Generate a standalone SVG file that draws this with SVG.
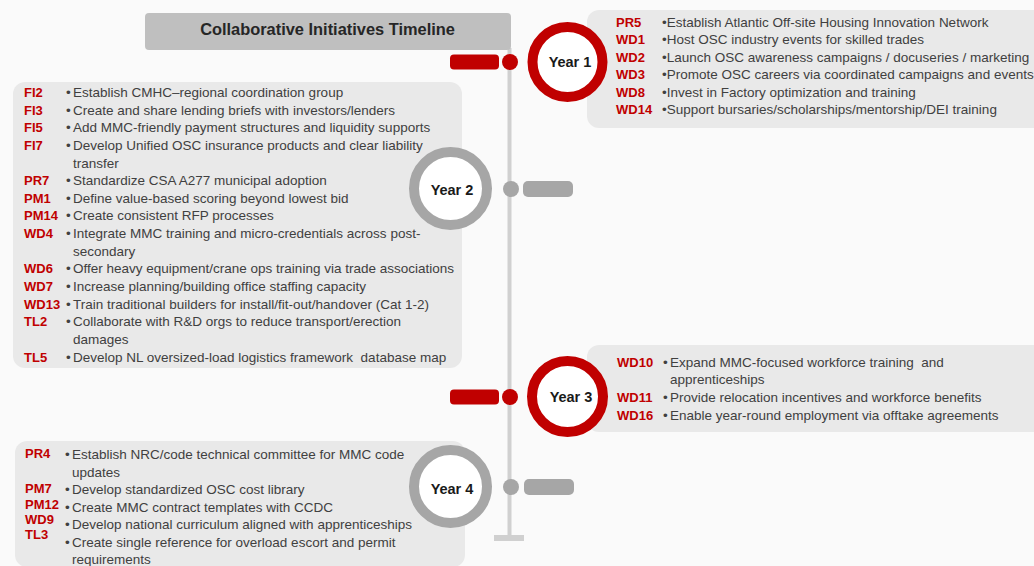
<svg xmlns="http://www.w3.org/2000/svg" width="1034" height="566" viewBox="0 0 1034 566">
<style>
.bg{fill:#fafafa}
.box{fill:#e9e9e9}
.code{font-family:"Liberation Sans",Arial,sans-serif;font-weight:bold;font-size:13px;fill:#c00000}
.t{font-family:"Liberation Sans",Arial,sans-serif;font-size:13.5px;fill:#404040;white-space:pre}
.yr{font-family:"Liberation Sans",Arial,sans-serif;font-weight:bold;font-size:14.5px;fill:#1a1a1a;text-anchor:middle}
.ringR{fill:#ffffff;stroke:#c00000;stroke-width:10}
.ringG{fill:#ffffff;stroke:#a6a6a6;stroke-width:10}
.red{fill:#c00000}
.gray{fill:#a6a6a6}
.line{fill:#d0d0d0}
</style>
<rect class="bg" x="0" y="0" width="1034" height="566"/>

<g id="connectors">
  <rect class="line" x="507.5" y="48" width="4" height="490"/>
  <rect class="line" x="494" y="535" width="30" height="6"/>
  <circle class="red" cx="510" cy="62" r="8"/>
  <rect class="red" x="450" y="54.5" width="49" height="15" rx="4"/>
  <circle class="gray" cx="511" cy="189" r="8"/>
  <rect class="gray" x="523" y="181" width="50" height="16" rx="5"/>
  <circle class="red" cx="510" cy="397" r="8"/>
  <rect class="red" x="450" y="389.5" width="49" height="15" rx="4"/>
  <circle class="gray" cx="511" cy="487" r="8"/>
  <rect class="gray" x="524" y="479" width="50" height="16" rx="5"/>
</g>

<g id="title">
  <rect x="145" y="13" width="366" height="37" rx="4" fill="#bfbfbf"/>
  <text x="327.5" y="35" text-anchor="middle" font-family="Liberation Sans, Arial, sans-serif" font-weight="bold" font-size="16.4" fill="#262626">Collaborative Initiatives Timeline</text>
</g>

<g id="year1">
  <rect class="box" x="587" y="10" width="470" height="118" rx="12"/>
  <circle class="ringR" cx="567.5" cy="62" r="35"/>
  <text class="yr" x="570" y="67">Year 1</text>
  <text class="code" x="616" y="26.5">PR5</text><text class="t" x="662" y="26.5">•Establish Atlantic Off-site Housing Innovation Network</text>
  <text class="code" x="616" y="44">WD1</text><text class="t" x="662" y="44">•Host OSC industry events for skilled trades</text>
  <text class="code" x="616" y="61.5">WD2</text><text class="t" x="662" y="61.5">•Launch OSC awareness campaigns / docuseries / marketing</text>
  <text class="code" x="616" y="79">WD3</text><text class="t" x="662" y="79">•Promote OSC careers via coordinated campaigns and events</text>
  <text class="code" x="616" y="96.5">WD8</text><text class="t" x="662" y="96.5">•Invest in Factory optimization and training</text>
  <text class="code" x="616" y="114">WD14</text><text class="t" x="662" y="114">•Support bursaries/scholarships/mentorship/DEI training</text>
</g>

<g id="year2">
  <rect class="box" x="13" y="82" width="449" height="286" rx="12"/>
  <circle class="ringG" cx="450.5" cy="188.5" r="36.5"/>
  <text class="yr" x="452" y="195">Year 2</text>
  <text class="code" x="24" y="97">FI2</text><text class="t" x="66" y="97">•</text><text class="t" x="73" y="97">Establish CMHC–regional coordination group</text>
  <text class="code" x="24" y="114.6">FI3</text><text class="t" x="66" y="114.6">•</text><text class="t" x="73" y="114.6">Create and share lending briefs with investors/lenders</text>
  <text class="code" x="24" y="132.3">FI5</text><text class="t" x="66" y="132.3">•</text><text class="t" x="73" y="132.3">Add MMC-friendly payment structures and liquidity supports</text>
  <text class="code" x="24" y="149.9">FI7</text><text class="t" x="66" y="149.9">•</text><text class="t" x="73" y="149.9">Develop Unified OSC insurance products and clear liability</text>
  <text class="t" x="73" y="167.5">transfer</text>
  <text class="code" x="24" y="185.2">PR7</text><text class="t" x="66" y="185.2">•</text><text class="t" x="73" y="185.2">Standardize CSA A277 municipal adoption</text>
  <text class="code" x="24" y="202.8">PM1</text><text class="t" x="66" y="202.8">•</text><text class="t" x="73" y="202.8">Define value-based scoring beyond lowest bid</text>
  <text class="code" x="24" y="220.4">PM14</text><text class="t" x="66" y="220.4">•</text><text class="t" x="73" y="220.4">Create consistent RFP processes</text>
  <text class="code" x="24" y="238">WD4</text><text class="t" x="66" y="238">•</text><text class="t" x="73" y="238">Integrate MMC training and micro-credentials across post-</text>
  <text class="t" x="73" y="255.7">secondary</text>
  <text class="code" x="24" y="273.3">WD6</text><text class="t" x="66" y="273.3">•</text><text class="t" x="73" y="273.3">Offer heavy equipment/crane ops training via trade associations</text>
  <text class="code" x="24" y="290.9">WD7</text><text class="t" x="66" y="290.9">•</text><text class="t" x="73" y="290.9">Increase planning/building office staffing capacity</text>
  <text class="code" x="24" y="308.6">WD13</text><text class="t" x="66" y="308.6">•</text><text class="t" x="73" y="308.6">Train traditional builders for install/fit-out/handover (Cat 1-2)</text>
  <text class="code" x="24" y="326.2">TL2</text><text class="t" x="66" y="326.2">•</text><text class="t" x="73" y="326.2">Collaborate with R&amp;D orgs to reduce transport/erection</text>
  <text class="t" x="73" y="343.8">damages</text>
  <text class="code" x="24" y="361.5">TL5</text><text class="t" x="66" y="361.5">•</text><text class="t" x="73" y="361.5">Develop NL oversized-load logistics framework  database map</text>
</g>

<g id="year3">
  <rect class="box" x="587" y="345" width="470" height="87" rx="12"/>
  <circle class="ringR" cx="567.5" cy="396.5" r="35.5"/>
  <text class="yr" x="571" y="401.5">Year 3</text>
  <text class="code" x="617" y="366.5">WD10</text><text class="t" x="663" y="366.5">•</text><text class="t" x="670" y="366.5">Expand MMC-focused workforce training  and</text>
  <text class="t" x="670" y="384.3">apprenticeships</text>
  <text class="code" x="617" y="402">WD11</text><text class="t" x="663" y="402">•</text><text class="t" x="670" y="402">Provide relocation incentives and workforce benefits</text>
  <text class="code" x="617" y="420">WD16</text><text class="t" x="663" y="420">•</text><text class="t" x="670" y="420">Enable year-round employment via offtake agreements</text>
</g>

<g id="year4">
  <rect class="box" x="15" y="441" width="450" height="126" rx="12"/>
  <circle class="ringG" cx="450.5" cy="486.5" r="36.5"/>
  <text class="yr" x="452" y="494">Year 4</text>
  <text class="code" x="25" y="457.7">PR4</text><text class="t" x="65" y="459">•</text><text class="t" x="72" y="459">Establish NRC/code technical committee for MMC code</text>
  <text class="t" x="72" y="476.5">updates</text>
  <text class="code" x="25" y="492.7">PM7</text><text class="t" x="65" y="494">•</text><text class="t" x="72" y="494">Develop standardized OSC cost library</text>
  <text class="code" x="25" y="508.5">PM12</text><text class="t" x="65" y="511.5">•</text><text class="t" x="72" y="511.5">Create MMC contract templates with CCDC</text>
  <text class="code" x="25" y="523.5">WD9</text><text class="t" x="65" y="529">•</text><text class="t" x="72" y="529">Develop national curriculum aligned with apprenticeships</text>
  <text class="code" x="25" y="538.5">TL3</text><text class="t" x="65" y="546.5">•</text><text class="t" x="72" y="546.5">Create single reference for overload escort and permit</text>
  <text class="t" x="72" y="564">requirements</text>
</g>
</svg>
